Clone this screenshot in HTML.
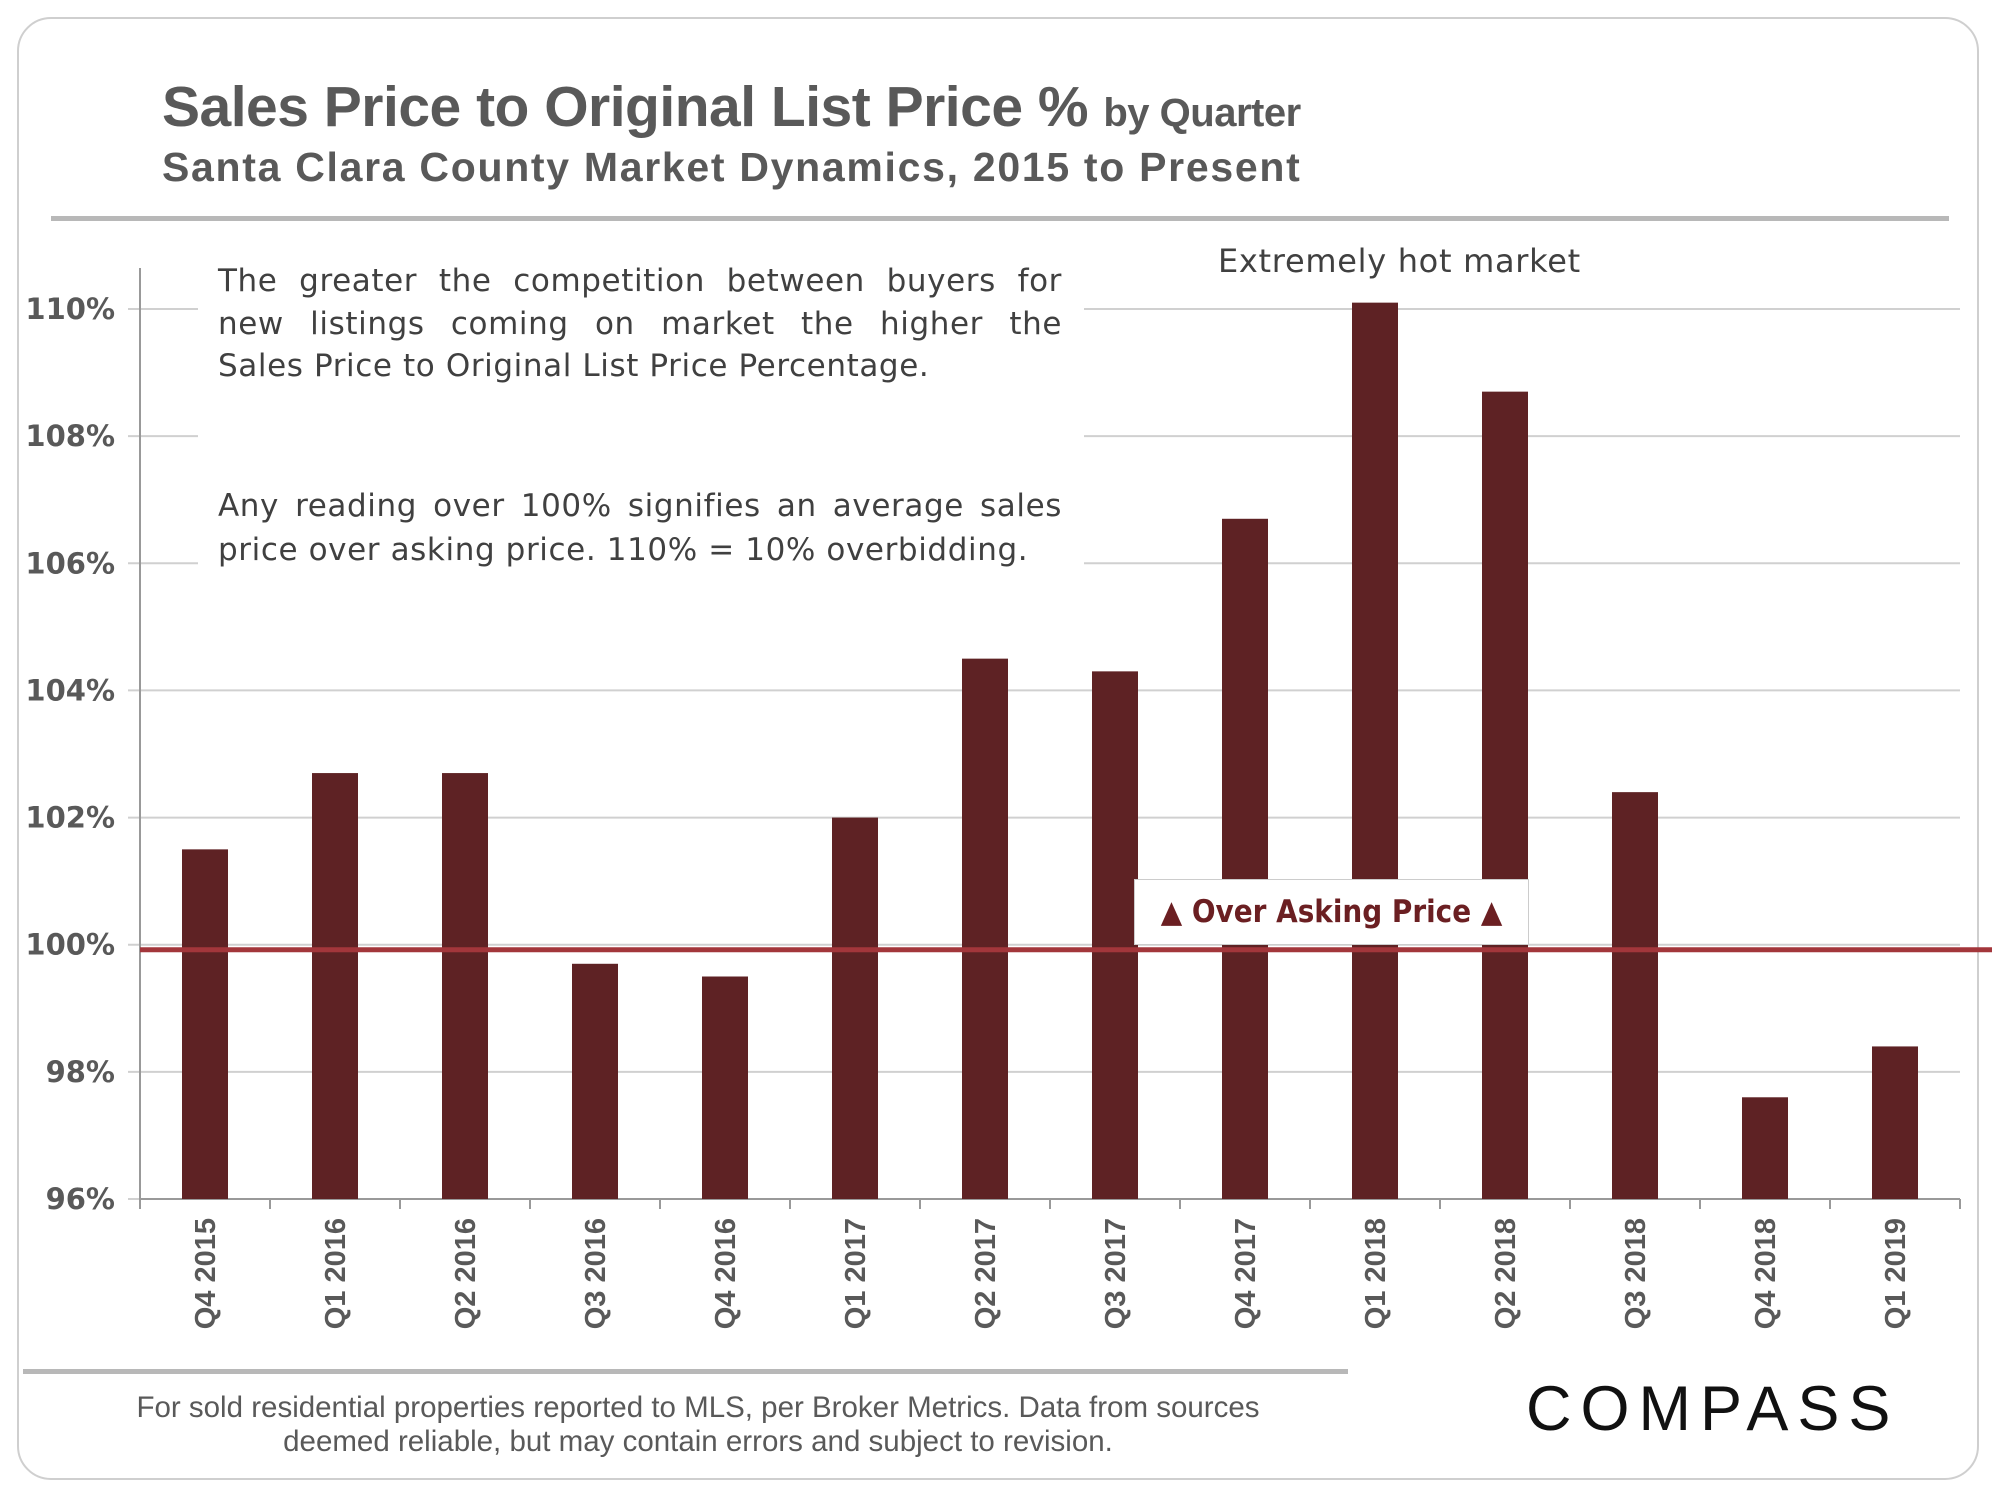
<!DOCTYPE html>
<html><head><meta charset="utf-8"><style>
body{margin:0;background:#fff;width:2000px;height:1500px;overflow:hidden;font-family:"Liberation Sans",sans-serif}
.card{position:absolute;left:17px;top:17px;width:1962px;height:1463px;border:2px solid #cfcfcf;border-radius:34px;box-sizing:border-box}
.t{position:absolute;color:#595959;white-space:nowrap}
.nbg{position:absolute;left:198px;top:255px;width:886px;height:330px;background:#fff}
.nl{position:absolute;left:218px;width:844px;font-family:"DejaVu Sans",sans-serif;font-size:31px;line-height:40px;color:#404040;white-space:nowrap;letter-spacing:0.6px}
.j{text-align:justify;text-align-last:justify}
</style></head><body>
<div class="card"></div>
<div class="t" style="left:162px;top:74px;font-size:57px;font-weight:bold;letter-spacing:-0.5px">Sales Price to Original List Price % <span style="font-size:40px">by Quarter</span></div>
<div class="t" style="left:162px;top:144px;font-size:41px;font-weight:bold;letter-spacing:1.7px">Santa Clara County Market Dynamics, 2015 to Present</div>
<div style="position:absolute;left:51px;top:216px;width:1898px;height:5px;background:#b8b8b8"></div>
<svg id="chart" width="2000" height="1500" style="position:absolute;left:0;top:0"></svg>
<div class="nbg"></div>
<div class="nl j" style="top:261px">The greater the competition between buyers for</div>
<div class="nl j" style="top:304px">new listings coming on market the higher the</div>
<div class="nl" style="top:346px">Sales Price to Original List Price Percentage.</div>
<div class="nl j" style="top:486px">Any reading over 100% signifies an average sales</div>
<div class="nl" style="top:530px">price over asking price. 110% = 10% overbidding.</div>
<div class="t" style="left:1218px;top:242px;font-family:'DejaVu Sans',sans-serif;font-size:32px;color:#404040;letter-spacing:0.7px">Extremely hot market</div>
<div style="position:absolute;left:1134px;top:879px;width:395px;height:66px;background:#fff;border:1px solid #ccc;box-sizing:border-box;color:#6b1f22;font-size:31px;font-weight:bold;text-align:center;line-height:64px;font-family:'DejaVu Sans Condensed','DejaVu Sans',sans-serif">▲ Over Asking Price ▲</div>
<div style="position:absolute;left:23px;top:1369px;width:1325px;height:5px;background:#b8b8b8"></div>
<div class="t" style="left:50px;width:1296px;top:1391px;font-size:29.5px;line-height:34px;text-align:center;white-space:normal">For sold residential properties reported to MLS, per Broker Metrics. Data from sources<br>deemed reliable, but may contain errors and subject to revision.</div>
<div class="t" style="left:1526px;top:1373px;font-size:63px;color:#111;letter-spacing:9px">COMPASS</div>
<script>
const categories=["Q4 2015","Q1 2016","Q2 2016","Q3 2016","Q4 2016","Q1 2017","Q2 2017","Q3 2017","Q4 2017","Q1 2018","Q2 2018","Q3 2018","Q4 2018","Q1 2019"];
const values=[101.5,102.7,102.7,99.7,99.5,102.0,104.5,104.3,106.7,110.1,108.7,102.4,97.6,98.4];
const yTicks=[96,98,100,102,104,106,108,110];
const refValue=100;
const NS="http://www.w3.org/2000/svg";
const svg=document.getElementById('chart');
const X0=140,X1=1960,Y0=1199,Ymin=96,Ymax=110,Ytop=309;
const y=v=>Y0-(v-Ymin)/(Ymax-Ymin)*(Y0-Ytop);
const step=(X1-X0)/categories.length;
const xc=i=>X0+step*(i+0.5);
function mk(t,a){const e=document.createElementNS(NS,t);for(const k in a)e.setAttribute(k,a[k]);svg.appendChild(e);return e;}
yTicks.forEach(v=>{
  const g=mk('line',{x1:X0-12,x2:X1,y1:y(v),y2:y(v),stroke:'#d0d0d0','stroke-width':2});
  
  
  const t=mk('text',{x:115,y:y(v)+10,'text-anchor':'end','font-size':29,'font-weight':'bold',fill:'#595959','font-family':'DejaVu Sans, sans-serif'});
  t.textContent=v+'%';
  
  
});
const ax=mk('line',{x1:X0,x2:X0,y1:268,y2:Y0,stroke:'#999','stroke-width':2});


const bx=mk('line',{x1:X0,x2:X1,y1:Y0,y2:Y0,stroke:'#999','stroke-width':2});


for(let i=0;i<=categories.length;i++){
  const tk=mk('line',{x1:X0+step*i,x2:X0+step*i,y1:Y0,y2:Y0+10,stroke:'#999','stroke-width':2});
  
  
}
const bw=46;
values.forEach((v,i)=>{
  const r=mk('rect',{x:xc(i)-bw/2,y:y(v),width:bw,height:Y0-y(v),fill:'#5e2224'});
  
  
  const t=mk('text',{transform:`translate(${xc(i)+10},1218) rotate(-90)`,'text-anchor':'end','font-size':29,'font-weight':'bold',fill:'#595959','font-family':'Liberation Sans, sans-serif'});
  t.textContent=categories[i];
  
  
});
const rl=mk('line',{x1:X0,x2:1992,y1:y(refValue)+5,y2:y(refValue)+5,stroke:'#a3363b','stroke-width':5});


</script>
</body></html>
